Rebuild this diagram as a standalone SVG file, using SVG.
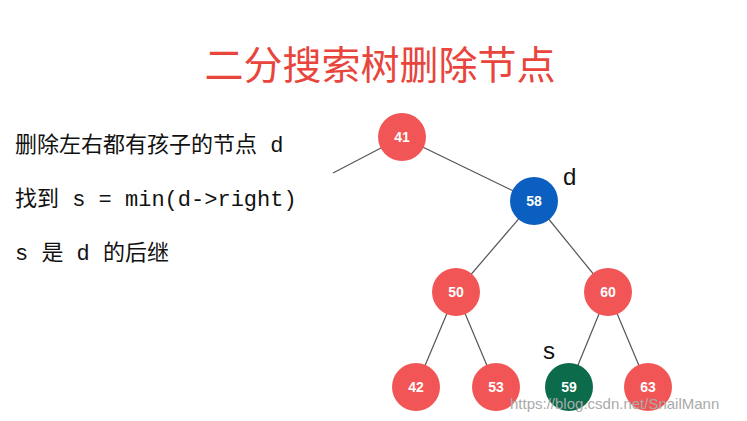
<svg xmlns="http://www.w3.org/2000/svg" width="747" height="421" viewBox="0 0 747 421">
<style>
.n{stroke:none}
.r{fill:#f25555}
.b{fill:#0b5fc0}
.g{fill:#0b6b4a}
.lbl{font-family:"Liberation Sans",Arial,sans-serif;font-size:14px;font-weight:bold;fill:#fff;text-anchor:middle;dominant-baseline:central}
.t{font-family:"Liberation Mono","Noto Sans CJK SC",monospace;font-size:22px;fill:#111}
.e line{stroke:#555;stroke-width:1.2}
</style>
<rect width="747" height="421" fill="#fff"/>
<text x="380" y="79" text-anchor="middle" font-family="'Noto Sans CJK SC',sans-serif" font-size="39" fill="#e8453c">二分搜索树删除节点</text>
<text class="t" x="15" y="152">删除左右都有孩子的节点 d</text>
<text class="t" x="15" y="206">找到 s = min(d-&gt;right)</text>
<text class="t" x="15" y="260">s 是 d 的后继</text>
<g class="e" id="edges">
<line x1="402" y1="137" x2="333" y2="173"/>
<line x1="402" y1="137" x2="534" y2="201"/>
<line x1="534" y1="201" x2="456" y2="292"/>
<line x1="534" y1="201" x2="608" y2="292"/>
<line x1="456" y1="292" x2="416" y2="387"/>
<line x1="456" y1="292" x2="496" y2="387"/>
<line x1="608" y1="292" x2="569" y2="387"/>
<line x1="608" y1="292" x2="648" y2="387"/>
</g>
<g id="n41"><circle class="r" cx="402" cy="137" r="24"/><text class="lbl" x="402" y="137">41</text></g>
<g id="n58"><circle class="b" cx="534" cy="201" r="24"/><text class="lbl" x="534" y="201">58</text></g>
<g id="n50"><circle class="r" cx="456" cy="292" r="24"/><text class="lbl" x="456" y="292">50</text></g>
<g id="n60"><circle class="r" cx="608" cy="292" r="24"/><text class="lbl" x="608" y="292">60</text></g>
<g id="n42"><circle class="r" cx="416" cy="387" r="24"/><text class="lbl" x="416" y="387">42</text></g>
<g id="n53"><circle class="r" cx="496" cy="387" r="24"/><text class="lbl" x="496" y="387">53</text></g>
<g id="n59"><circle class="g" cx="569" cy="387" r="24"/><text class="lbl" x="569" y="387">59</text></g>
<g id="n63"><circle class="r" cx="648" cy="387" r="24"/><text class="lbl" x="648" y="387">63</text></g>
<text x="563" y="185" font-family="'Liberation Sans',sans-serif" font-size="24" fill="#111">d</text>
<text x="543" y="359" font-family="'Liberation Sans',sans-serif" font-size="24" fill="#111">s</text>
<text x="510" y="409" font-family="'Liberation Sans',sans-serif" font-size="15" fill="#aaa">https://blog.csdn.net/SnailMann</text>
</svg>
